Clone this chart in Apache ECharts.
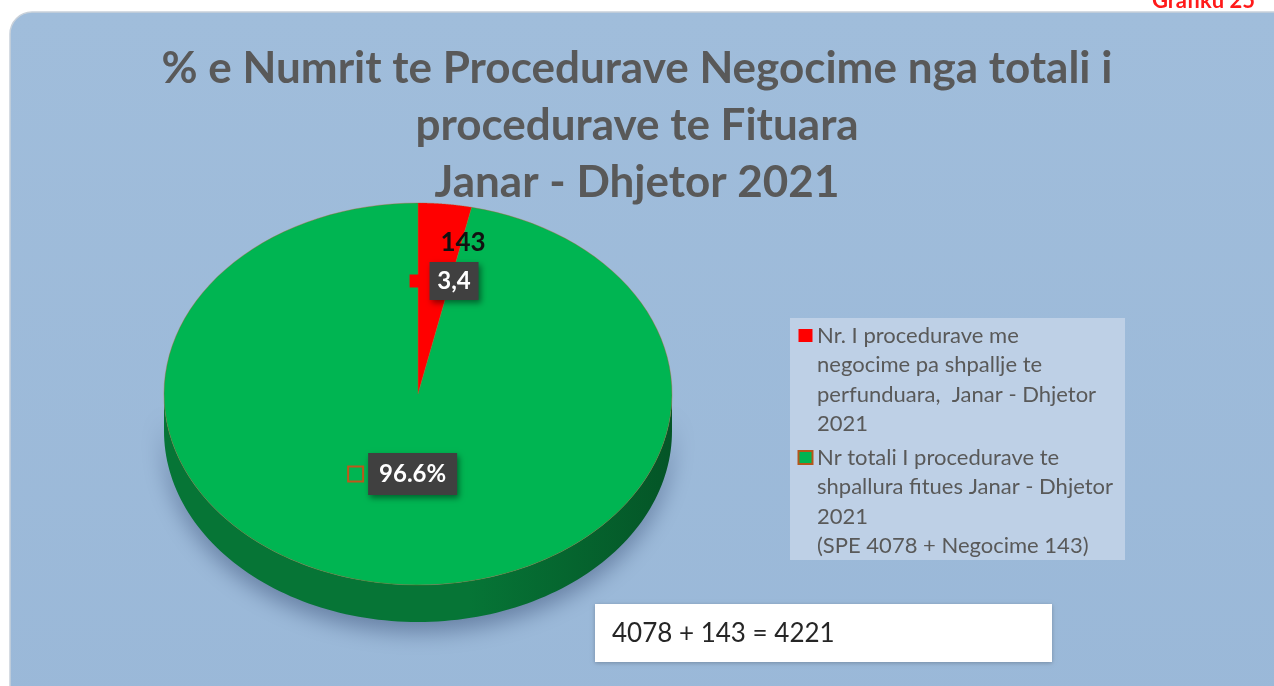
<!DOCTYPE html>
<html>
<head>
<meta charset="utf-8">
<script src="https://cdn.jsdelivr.net/npm/echarts@6/dist/echarts.min.js"></script>
<style>
  html, body { margin: 0; padding: 0; background: #ffffff; }
  #chart { width: 1274px; height: 686px; }
</style>
</head>
<body>
<div id="chart"></div>
<script>
  // te dhenat e grafikut
  var sliceNames = [
    'Nr. I procedurave me\nnegocime pa shpallje te\nperfunduara,  Janar - Dhjetor\n2021',
    'Nr totali I procedurave te\nshpallura fitues Janar - Dhjetor\n2021\n(SPE 4078 + Negocime 143)'
  ]
  var sliceValues = [143, 4078]
  var sliceLabels = ['3,4', '96.6%']
  var countLabels = ['143', '']
  var titleText = '% e Numrit te Procedurave Negocime nga totali i\nprocedurave te Fituara\nJanar - Dhjetor 2021'
  var formulaText = '4078 + 143 = 4221'
  var figureText = 'Grafiku 25'

  // stilet
  var topColors = ['#ff0000', '#00b552']
  var sideColors = ['#b00000', '#067536']
  var keyStyles = [
    { w: 10, h: 13, fill: '#ff0000', stroke: null },
    { w: 15, h: 15, fill: 'rgba(0,0,0,0)', stroke: '#c0561a' }
  ]
  var legendKeys = [
    { fill: '#ff0000', stroke: null },
    { fill: '#00b552', stroke: '#b4561a' }
  ]
  var labelRadius = [0.595, 0.421]
  var labelShift = [10, -4]

  var CX = 418, CY = 394, RX = 254, RY = 191, DEPTH = 37
  var FONT = 'Lato, "Open Sans", sans-serif'

  function pt(t, dy, f) {
    f = f == null ? 1 : f
    return [CX + RX * f * Math.sin(t), CY - RY * f * Math.cos(t) + dy]
  }

  var total = sliceValues.reduce(function (a, b) { return a + b }, 0)

  function renderItem(params, api) {
    var i = params.dataIndex
    var before = 0
    for (var j = 0; j < i; j++) before += sliceValues[j]
    var a0 = before / total * Math.PI * 2
    var a1 = (before + api.value(0)) / total * Math.PI * 2
    var children = []
    var N = 120, k

    // ana e perparme (3D)
    var s0 = Math.max(a0, Math.PI / 2)
    var s1 = Math.min(a1, Math.PI * 1.5)
    if (s1 > s0) {
      var side = []
      for (k = 0; k <= N; k++) side.push(pt(s0 + (s1 - s0) * k / N, 0))
      for (k = N; k >= 0; k--) side.push(pt(s0 + (s1 - s0) * k / N, DEPTH))
      children.push({
        type: 'polygon',
        z2: 1,
        shape: { points: side },
        style: {
          fill: {
            type: 'linear', x: 0, y: 0, x2: 1, y2: 0,
            colorStops: [
              { offset: 0, color: sideColors[i] },
              { offset: 0.6, color: sideColors[i] },
              { offset: 1, color: '#045527' }
            ]
          },
          shadowBlur: 22,
          shadowColor: 'rgba(40,60,100,0.45)',
          shadowOffsetY: 10
        }
      })
    }

    // faqja e siperme
    var top = [[CX, CY]]
    for (k = 0; k <= N; k++) top.push(pt(a0 + (a1 - a0) * k / N, 0))
    children.push({
      type: 'polygon',
      z2: 10,
      shape: { points: top },
      style: { fill: topColors[i], stroke: 'rgba(190,90,30,0.35)', lineWidth: 1 }
    })

    // etiketat
    var mid = (a0 + a1) / 2
    var p = pt(mid, 0, labelRadius[i])
    var ks = keyStyles[i]
    var boxW = sliceLabels[i].length > 3 ? 89 : 49
    var boxH = i === 0 ? 38 : 42
    var gap = i === 0 ? 10 : 5
    var groupW = ks.w + gap + boxW
    var gx = p[0] + labelShift[i] - groupW / 2
    var gy = p[1]
    children.push({
      type: 'rect', z2: 20,
      shape: { x: gx, y: gy - ks.h / 2, width: ks.w, height: ks.h },
      style: { fill: ks.fill, stroke: ks.stroke, lineWidth: ks.stroke ? 2 : 0 }
    })
    children.push({
      type: 'rect', z2: 20,
      shape: { x: gx + ks.w + gap, y: gy - boxH / 2, width: boxW, height: boxH },
      style: { fill: '#404040', shadowBlur: 6, shadowColor: 'rgba(0,0,0,0.45)', shadowOffsetX: 2, shadowOffsetY: 3 }
    })
    children.push({
      type: 'text', z2: 21,
      x: gx + ks.w + gap + boxW / 2, y: gy,
      style: {
        text: sliceLabels[i], fill: '#ffffff',
        font: 'bold 24px ' + FONT, align: 'center', verticalAlign: 'middle'
      }
    })
    if (countLabels[i]) {
      children.push({
        type: 'text', z2: 21,
        x: gx + ks.w + gap + boxW / 2 + 9, y: gy - 38,
        style: {
          text: countLabels[i], fill: '#111111',
          font: 'bold 26px ' + FONT, align: 'center', verticalAlign: 'middle'
        }
      })
    }
    return { type: 'group', children: children }
  }

  // legjenda
  var legendEls = [{
    type: 'rect', z: 2,
    shape: { x: 790, y: 318, width: 335, height: 242 },
    style: { fill: '#bed0e6' }
  }]
  var ly = 321
  sliceNames.forEach(function (name, i) {
    var lines = name.split('\n').length
    legendEls.push({
      type: 'rect', z: 3,
      shape: { x: 798.5, y: ly + 8, width: 14, height: 13 },
      style: { fill: legendKeys[i].fill, stroke: legendKeys[i].stroke, lineWidth: legendKeys[i].stroke ? 2 : 0 }
    })
    legendEls.push({
      type: 'text', z: 3, x: 817, y: ly,
      style: { text: name, fill: '#595959', font: '22px ' + FONT, lineHeight: 29.5, verticalAlign: 'top' }
    })
    ly += lines * 29.5 + 4
  })

  var myChart = echarts.init(document.getElementById('chart'))
  myChart.setOption({
    animation: false,
    title: {
      text: titleText,
      left: 'center',
      top: 35,
      textStyle: { fontFamily: FONT, fontSize: 44, fontWeight: 'bold', color: '#595959', lineHeight: 57 }
    },
    graphic: [
      {
        type: 'rect', z: 0,
        shape: { x: 10, y: 12, width: 1300, height: 720, r: 22 },
        style: {
          fill: {
            type: 'linear', x: 0, y: 0, x2: 0, y2: 1,
            colorStops: [{ offset: 0, color: '#a0bddb' }, { offset: 1, color: '#9ab8d8' }]
          },
          stroke: '#c9d1da', lineWidth: 1.5
        }
      },
      {
        type: 'text', z: 1, x: 1152, y: 12,
        style: { text: figureText, fill: '#ff1a1a', font: 'bold 22px ' + FONT, verticalAlign: 'bottom' }
      },
      {
        type: 'rect', z: 2,
        shape: { x: 595, y: 604, width: 457, height: 58 },
        style: { fill: '#ffffff', shadowBlur: 4, shadowColor: 'rgba(0,0,0,0.25)', shadowOffsetY: 1 }
      },
      {
        type: 'text', z: 3, x: 612, y: 634,
        style: { text: formulaText, fill: '#262626', font: '26px ' + FONT, verticalAlign: 'middle' }
      }
    ].concat(legendEls),
    series: [
      {
        type: 'custom',
        coordinateSystem: 'none',
        renderItem: renderItem,
        silent: true,
        z: 5,
        data: sliceValues.map(function (v, i) { return { name: sliceNames[i], value: [v] } })
      }
    ]
  })
</script>
</body>
</html>
